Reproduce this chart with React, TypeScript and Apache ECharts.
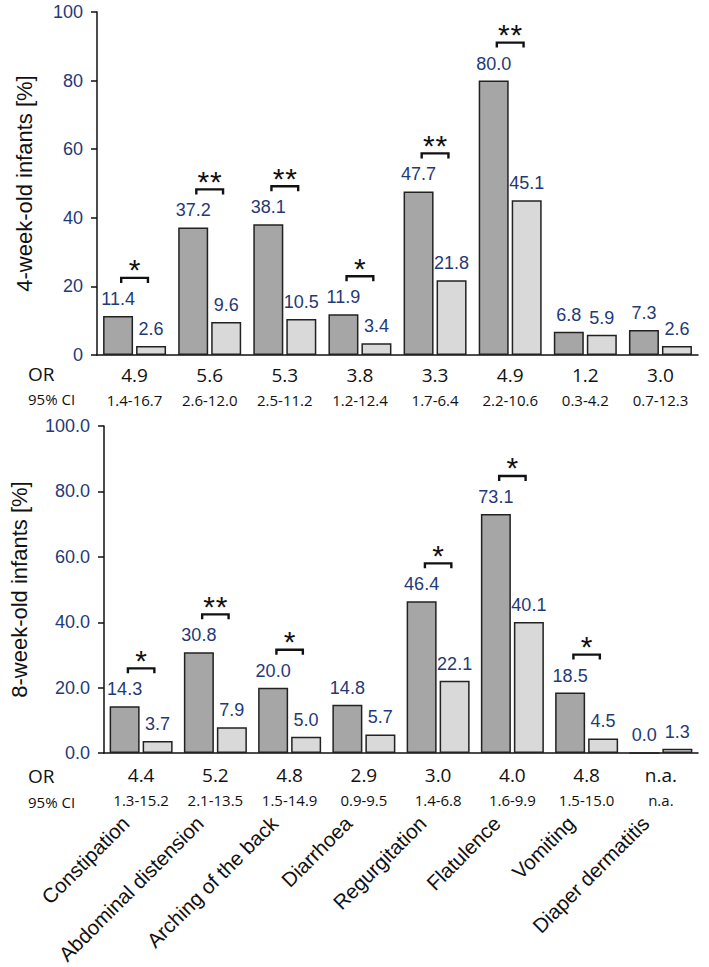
import React, { useEffect, useRef } from "react";
import * as echarts from "echarts";

const categories = [
  "Constipation",
  "Abdominal distension",
  "Arching of the back",
  "Diarrhoea",
  "Regurgitation",
  "Flatulence",
  "Vomiting",
  "Diaper dermatitis",
];

const week4Dark = [11.4, 37.2, 38.1, 11.9, 47.7, 80.0, 6.8, 7.3];
const week4Light = [2.6, 9.6, 10.5, 3.4, 21.8, 45.1, 5.9, 2.6];
const week4OR = ["4.9", "5.6", "5.3", "3.8", "3.3", "4.9", "1.2", "3.0"];
const week4CI = ["1.4-16.7", "2.6-12.0", "2.5-11.2", "1.2-12.4", "1.7-6.4", "2.2-10.6", "0.3-4.2", "0.7-12.3"];
const week4Sig = ["*", "**", "**", "*", "**", "**", "", ""];

const week8Dark = [14.3, 30.8, 20.0, 14.8, 46.4, 73.1, 18.5, 0.0];
const week8Light = [3.7, 7.9, 5.0, 5.7, 22.1, 40.1, 4.5, 1.3];
const week8OR = ["4.4", "5.2", "4.8", "2.9", "3.0", "4.0", "4.8", "n.a."];
const week8CI = ["1.3-15.2", "2.1-13.5", "1.5-14.9", "0.9-9.5", "1.4-6.8", "1.6-9.9", "1.5-15.0", "n.a."];
const week8Sig = ["*", "**", "*", "", "*", "*", "*", ""];

const NAVY = "#1F3A78";
const DARK = "#A6A6A6";
const LIGHT = "#D9D9D9";
const SANS = "Liberation Sans, Arial, sans-serif";
const OR_FONT = "Open Sans, Noto Sans, sans-serif";

function sigData(dark: number[], light: number[], sig: string[]) {
  const out: any[] = [];
  sig.forEach((s, i) => {
    if (s) out.push([i, Math.max(dark[i], light[i]), s.length]);
  });
  return out;
}

function bracketRender(params: any, api: any) {
  const idx = api.value(0);
  const top = api.value(1);
  const n = api.value(2);
  const p = api.coord([idx, top]);
  const catW = api.size([1, 0])[0];
  const hw = catW * 0.178;
  const y = p[1] - 38;
  const x = p[0];
  const children: any[] = [
    {
      type: "polyline",
      shape: {
        points: [
          [x - hw, y + 5],
          [x - hw, y],
          [x + hw, y],
          [x + hw, y + 5],
        ],
      },
      style: { stroke: "#111", lineWidth: 2.4, fill: null },
    },
  ];
  for (let k = 0; k < n; k++) {
    children.push({
      type: "text",
      x: x + (k - (n - 1) / 2) * 12.5,
      y: y - 8,
      style: {
        text: "*",
        fontSize: 30,
        fontFamily: SANS,
        fill: "#111",
        align: "center",
        verticalAlign: "middle",
      },
    });
  }
  return { type: "group", children };
}

function orLabels(or: string[], ci: string[]) {
  return (value: string, index: number) => `{a|${or[index]}}\n{b|${ci[index]}}`;
}

const yAxisCommon = {
  type: "value",
  min: 0,
  max: 100,
  interval: 20,
  axisLine: { show: true, lineStyle: { color: "#111", width: 1.5 } },
  axisTick: { show: true, inside: false, length: 6, lineStyle: { color: "#111", width: 1.5 } },
  splitLine: { show: false },
  nameLocation: "middle",
  nameTextStyle: { fontSize: 22, color: "#111", fontFamily: SANS },
};

export default function App() {
  const ref = useRef<HTMLDivElement>(null);

  useEffect(() => {
    document.body.style.margin = "0";
    if (!ref.current) return;
    const chart = echarts.init(ref.current, undefined, { renderer: "svg" });

    const barLabel = {
      show: true,
      position: "top",
      distance: 8,
      color: NAVY,
      fontSize: 18,
      fontFamily: SANS,
      formatter: (p: any) => Number(p.value).toFixed(1),
    };
    const barStyle = (c: string) => ({ color: c, borderColor: "#222", borderWidth: 1.5 });

    const orRich = {
      a: { fontSize: 19, lineHeight: 24, fontFamily: OR_FONT, color: "#111" },
      b: { fontSize: 15, lineHeight: 25, fontFamily: OR_FONT, color: "#111" },
    };

    const option: any = {
      animation: false,
      backgroundColor: "#fff",
      grid: [
        { left: 97, right: 11, top: 12, height: 343 },
        { left: 97, right: 11, top: 426, height: 329 },
      ],
      xAxis: [
        {
          type: "category",
          gridIndex: 0,
          data: categories,
          axisLine: { show: true, lineStyle: { color: "#111", width: 1.5 } },
          axisTick: { show: false },
          axisLabel: { interval: 0, margin: 8, formatter: orLabels(week4OR, week4CI), rich: orRich },
        },
        {
          type: "category",
          gridIndex: 1,
          data: categories,
          axisLine: { show: true, lineStyle: { color: "#111", width: 1.5 } },
          axisTick: { show: false },
          axisLabel: { interval: 0, margin: 10, formatter: orLabels(week8OR, week8CI), rich: orRich },
        },
        {
          type: "category",
          gridIndex: 1,
          position: "bottom",
          data: categories,
          axisLine: { show: false },
          axisTick: { show: false },
          axisLabel: {
            interval: 0,
            rotate: 45,
            margin: 51,
            padding: [0, 22, 0, 0],
            fontSize: 20.5,
            color: "#111",
            fontFamily: SANS,
          },
        },
      ],
      yAxis: [
        {
          ...yAxisCommon,
          gridIndex: 0,
          name: "4-week-old infants [%]",
          nameGap: 62,
          axisLabel: {
            margin: 14,
            fontSize: 18,
            color: NAVY,
            fontFamily: SANS,
            formatter: (v: number) => String(v),
          },
        },
        {
          ...yAxisCommon,
          gridIndex: 1,
          name: "8-week-old infants [%]",
          nameGap: 74,
          axisLabel: {
            margin: 14,
            fontSize: 18,
            color: NAVY,
            fontFamily: SANS,
            formatter: (v: number) => v.toFixed(1),
          },
        },
      ],
      graphic: [
        { type: "text", left: 28, top: 364, style: { text: "OR", fontSize: 19, fontFamily: OR_FONT, fill: "#111" } },
        { type: "text", left: 28, top: 391, style: { text: "95% CI", fontSize: 15, fontFamily: OR_FONT, fill: "#111" } },
        { type: "text", left: 28, top: 766, style: { text: "OR", fontSize: 19, fontFamily: OR_FONT, fill: "#111" } },
        { type: "text", left: 28, top: 794, style: { text: "95% CI", fontSize: 15, fontFamily: OR_FONT, fill: "#111" } },
      ],
      series: [
        {
          type: "bar",
          xAxisIndex: 0,
          yAxisIndex: 0,
          data: week4Dark,
          barWidth: 30,
          barGap: "10%",
          itemStyle: barStyle(DARK),
          label: barLabel,
        },
        {
          type: "bar",
          xAxisIndex: 0,
          yAxisIndex: 0,
          data: week4Light,
          barWidth: 30,
          barGap: "10%",
          itemStyle: barStyle(LIGHT),
          label: barLabel,
        },
        {
          type: "custom",
          xAxisIndex: 0,
          yAxisIndex: 0,
          data: sigData(week4Dark, week4Light, week4Sig),
          renderItem: bracketRender,
          encode: { x: 0, y: 1 },
          z: 5,
        },
        {
          type: "bar",
          xAxisIndex: 1,
          yAxisIndex: 1,
          data: week8Dark,
          barWidth: 30,
          barGap: "10%",
          itemStyle: barStyle(DARK),
          label: barLabel,
        },
        {
          type: "bar",
          xAxisIndex: 1,
          yAxisIndex: 1,
          data: week8Light,
          barWidth: 30,
          barGap: "10%",
          itemStyle: barStyle(LIGHT),
          label: barLabel,
        },
        {
          type: "custom",
          xAxisIndex: 1,
          yAxisIndex: 1,
          data: sigData(week8Dark, week8Light, week8Sig),
          renderItem: bracketRender,
          encode: { x: 0, y: 1 },
          z: 5,
        },
      ],
    };

    chart.setOption(option);
    return () => chart.dispose();
  }, []);

  return <div ref={ref} style={{ width: 709, height: 967 }} />;
}
